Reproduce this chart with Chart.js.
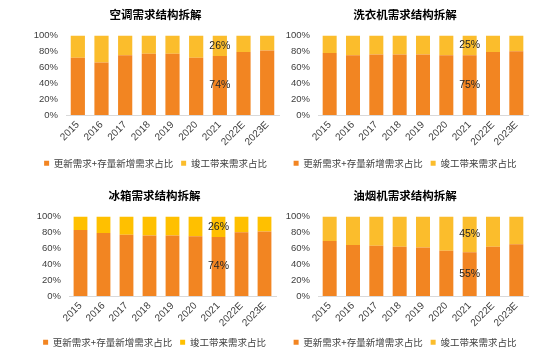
<!DOCTYPE html>
<html>
<head>
<meta charset="utf-8">
<script src="https://cdn.jsdelivr.net/npm/chart.js@4.4.0/dist/chart.umd.min.js"></script>
<style>
  html, body { margin: 0; padding: 0; background: #ffffff; width: 554px; height: 353px; overflow: hidden; }
  .panel { position: absolute; }
</style>
</head>
<body>
<div class="panel" id="pA" style="left:32px;top:0px;width:252px;height:178px;"><canvas id="cA"></canvas></div>
<div class="panel" id="pB" style="left:282px;top:0px;width:272px;height:178px;"><canvas id="cB"></canvas></div>
<div class="panel" id="pC" style="left:33px;top:181px;width:251px;height:176px;"><canvas id="cC"></canvas></div>
<div class="panel" id="pD" style="left:282px;top:181px;width:272px;height:176px;"><canvas id="cD"></canvas></div>
<script>
// ---- data ----
const years = ['2015', '2016', '2017', '2018', '2019', '2020', '2021', '2022E', '2023E'];
const seriesNames = ['更新需求+存量新增需求占比', '竣工带来需求占比'];
const yTicks = [0, 20, 40, 60, 80, 100];

const titleAC = '空调需求结构拆解';
const acReplace = [72, 66, 75, 77, 77, 72, 74, 79, 81];
const acCompletion = [28, 34, 25, 23, 23, 28, 26, 21, 19];

const titleWasher = '洗衣机需求结构拆解';
const washerReplace = [78, 75, 76, 76, 76, 75, 75, 79, 80];
const washerCompletion = [22, 25, 24, 24, 24, 25, 25, 21, 20];

const titleFridge = '冰箱需求结构拆解';
const fridgeReplace = [83, 79, 77, 76, 76, 75, 74, 80, 81];
const fridgeCompletion = [17, 21, 23, 24, 24, 25, 26, 20, 19];

const titleHood = '油烟机需求结构拆解';
const hoodReplace = [69, 64, 63, 62, 61, 57, 55, 62, 65];
const hoodCompletion = [31, 36, 37, 38, 39, 43, 45, 38, 35];

const labelledYear = '2021';

// ---- drawing ----
const ORANGE = '#F28522';
const YELLOW = '#FBBD2C';
const TEXT = '#404040';
const FONT = "'Noto Sans CJK SC', 'Liberation Sans', sans-serif";
const NUMFONT = "'Liberation Sans', Arial, sans-serif";

const valueLabelPlugin = {
  id: 'valueLabels',
  afterDatasetsDraw(chart) {
    const ctx = chart.ctx;
    const idx = chart.data.labels.indexOf(labelledYear);
    if (idx < 0) return;
    ctx.save();
    ctx.font = '10.5px ' + NUMFONT;
    ctx.fillStyle = '#262626';
    ctx.textAlign = 'center';
    ctx.textBaseline = 'middle';
    chart.data.datasets.forEach((ds, di) => {
      const meta = chart.getDatasetMeta(di);
      const el = meta.data[idx];
      if (!el) return;
      const yc = (el.y + el.base) / 2;
      ctx.fillText(ds.data[idx] + '%', el.x, yc);
    });
    ctx.restore();
  }
};

function makeChart(canvasId, title, replaceData, completionData, padRight, yWidth, xHeight, yellow) {
  return new Chart(document.getElementById(canvasId), {
    type: 'bar',
    data: {
      labels: years,
      datasets: [
        { label: seriesNames[0], data: replaceData, backgroundColor: ORANGE, borderWidth: 0 },
        { label: seriesNames[1], data: completionData, backgroundColor: yellow, borderWidth: 0 }
      ]
    },
    options: {
      responsive: true,
      maintainAspectRatio: false,
      animation: false,
      devicePixelRatio: 1,
      layout: { padding: { top: 0, bottom: 0, left: 0, right: padRight } },
      datasets: { bar: { barPercentage: 0.6, categoryPercentage: 1.0 } },
      scales: {
        x: {
          stacked: true,
          grid: { display: false, drawTicks: false },
          border: { display: true, color: '#D9D9D9', width: 1 },
          ticks: {
            minRotation: 45, maxRotation: 45, padding: 4, autoSkip: false,
            color: TEXT, font: { family: NUMFONT, size: 10 }
          },
          afterFit(scale) { scale.height = xHeight; }
        },
        y: {
          stacked: true,
          min: 0, max: 100,
          grid: { display: false, drawTicks: false },
          border: { display: false },
          afterBuildTicks(scale) { scale.ticks = yTicks.map(v => ({ value: v })); },
          ticks: {
            padding: 8, autoSkip: false,
            color: TEXT,
            font: { family: NUMFONT, size: 9.5 },
            callback: v => v + '%'
          },
          afterFit(scale) { scale.width = yWidth; }
        }
      },
      plugins: {
        title: {
          display: true, text: title, color: '#000000',
          font: { family: FONT, size: 11.5, weight: 'bold' },
          padding: { top: 8, bottom: 13.6 }
        },
        legend: {
          display: true, position: 'bottom',
          labels: {
            boxWidth: 5, boxHeight: 5, padding: 8,
            color: TEXT, font: { family: FONT, size: 9.5 }
          }
        },
        tooltip: { enabled: false }
      }
    },
    plugins: [valueLabelPlugin]
  });
}

makeChart('cA', titleAC, acReplace, acCompletion, 5, 34, 35.5, YELLOW);
makeChart('cB', titleWasher, washerReplace, washerCompletion, 26, 36, 35.5, YELLOW);
makeChart('cC', titleFridge, fridgeReplace, fridgeCompletion, 8, 36, 33.5, '#FFC000');
makeChart('cD', titleHood, hoodReplace, hoodCompletion, 26, 36, 33.5, YELLOW);
</script>
</body>
</html>
